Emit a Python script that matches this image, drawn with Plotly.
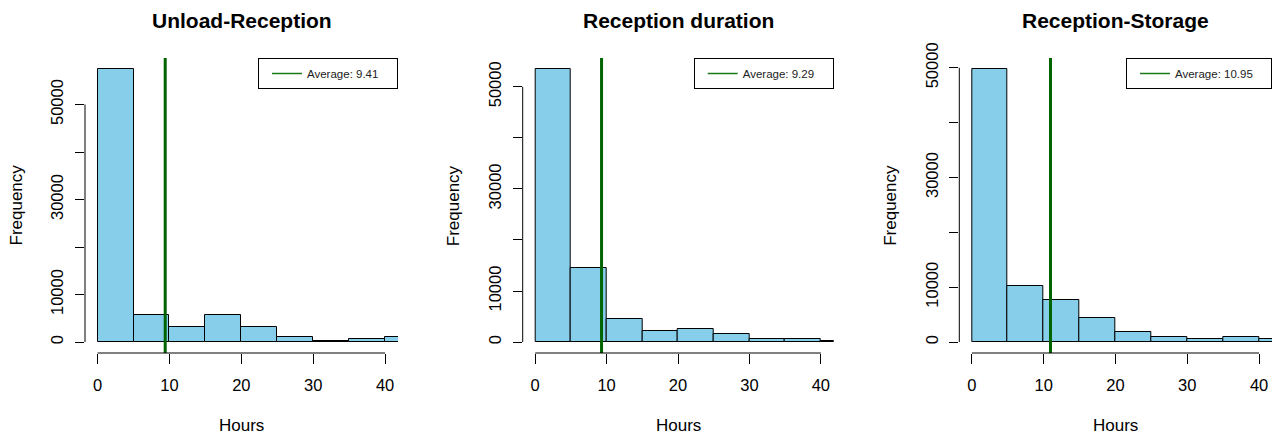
import plotly.graph_objects as go

# ---------------- data ----------------
titles = ["Unload-Reception", "Reception duration", "Reception-Storage"]
bin_edges = [0, 5, 10, 15, 20, 25, 30, 35, 40, 45]
counts_unload = [57500, 5800, 3100, 5800, 3100, 1050, 280, 630, 1050]
counts_reception = [53500, 14450, 4450, 2160, 2550, 1570, 590, 590, 200]
counts_storage = [49800, 10230, 7610, 4450, 1770, 850, 610, 910, 610]
averages = [9.41, 9.29, 10.95]
x_ticks = [0, 10, 20, 30, 40]
y_ticks = [0, 10000, 20000, 30000, 40000, 50000]
y_tick_labels = ["0", "10000", "", "30000", "", "50000"]
x_label = "Hours"
y_label = "Frequency"

all_counts = [counts_unload, counts_reception, counts_storage]

# ---------------- layout geometry (pixels) ----------------
W, H = 1274, 437
panels_px = [(85, 398), (522.7, 833.7), (959.3, 1272)]
top_px, bottom_px = 58, 353
FONT = "Liberation Sans, Arial, sans-serif"
PAD = "\u00a0" * 4

centers = [(a + b) / 2 for a, b in zip(bin_edges[:-1], bin_edges[1:])]
widths = [b - a for a, b in zip(bin_edges[:-1], bin_edges[1:])]

fig = go.Figure()
layout = dict(
    width=W, height=H,
    margin=dict(l=0, r=0, t=0, b=0, autoexpand=False),
    paper_bgcolor="white", plot_bgcolor="white",
    font=dict(family=FONT, color="black"),
    showlegend=True,
    bargap=0,
)
annotations = []
shapes = []

ydom = [(H - bottom_px) / H, (H - top_px) / H]

for i, (counts, avg, title) in enumerate(zip(all_counts, averages, titles)):
    n = "" if i == 0 else str(i + 1)
    xa, ya = "x" + n, "y" + n
    leg = "legend" + n
    l, r = panels_px[i]
    m = max(counts)
    ylo, yhi = -0.04 * m, 1.04 * m

    fig.add_trace(go.Bar(
        x=centers, y=counts, width=widths,
        marker=dict(color="#87CEEB", line=dict(color="black", width=1)),
        xaxis=xa, yaxis=ya, showlegend=False, hoverinfo="x+y",
    ))
    fig.add_trace(go.Scatter(
        x=[avg, avg], y=[ylo, yhi], mode="lines",
        line=dict(color="#006400", width=3),
        xaxis=xa, yaxis=ya, showlegend=False,
    ))
    fig.add_trace(go.Scatter(
        x=[None], y=[None], mode="lines",
        line=dict(color="#1a7a1a", width=1.5),
        name=f"Average: {avg:.2f}{PAD}",
        xaxis=xa, yaxis=ya, showlegend=True, legend=leg,
    ))

    layout["xaxis" + n] = dict(
        domain=[l / W, r / W], anchor=ya,
        range=[-1.75, 41.8], tickvals=x_ticks,
        ticks="outside", ticklen=10, tickwidth=1, tickcolor="black",
        showline=False, showgrid=False, zeroline=False,
        tickfont=dict(size=16.5, family=FONT, color="black"),
        ticklabelstandoff=7,
    )
    layout["yaxis" + n] = dict(
        domain=ydom, anchor=xa,
        range=[ylo, yhi], tickvals=y_ticks, ticktext=y_tick_labels,
        tickangle=-90,
        ticks="outside", ticklen=9, tickwidth=1, tickcolor="black",
        showline=False, showgrid=False, zeroline=False,
        tickfont=dict(size=16.5, family=FONT, color="black"),
        ticklabelstandoff=5,
    )
    layout[leg] = dict(
        x=r / W, y=ydom[1], xanchor="right", yanchor="top",
        bordercolor="black", borderwidth=1, bgcolor="white",
        font=dict(size=11.5, family=FONT, color="#222"),
        indentation=8,
        itemclick=False,
    )

    # R-style detached axis lines spanning tick range only
    shapes.append(dict(type="line", xref=xa, yref=ya + " domain",
                       x0=x_ticks[0], x1=x_ticks[-1], y0=0, y1=0,
                       line=dict(color="black", width=1)))
    shapes.append(dict(type="line", xref=xa + " domain", yref=ya,
                       x0=0, x1=0, y0=y_ticks[0], y1=y_ticks[-1],
                       line=dict(color="black", width=1)))

    cx = (l + r) / 2 / W
    annotations.append(dict(text=title, x=cx, y=1 - 21 / H, xref="paper", yref="paper",
                            xanchor="center", yanchor="middle", showarrow=False,
                            font=dict(size=21, family=FONT, color="black", weight="bold")))
    annotations.append(dict(text=x_label, x=cx, y=1 - 425.7 / H, xref="paper", yref="paper",
                            xanchor="center", yanchor="middle", showarrow=False,
                            font=dict(size=17, family=FONT, color="black")))
    annotations.append(dict(text=y_label, x=(l - 69) / W, y=(ydom[0] + ydom[1]) / 2,
                            xref="paper", yref="paper", textangle=-90,
                            xanchor="center", yanchor="middle", showarrow=False,
                            font=dict(size=17, family=FONT, color="black")))

layout["annotations"] = annotations
layout["shapes"] = shapes
fig.update_layout(**layout)
fig.write_html("out.html")
